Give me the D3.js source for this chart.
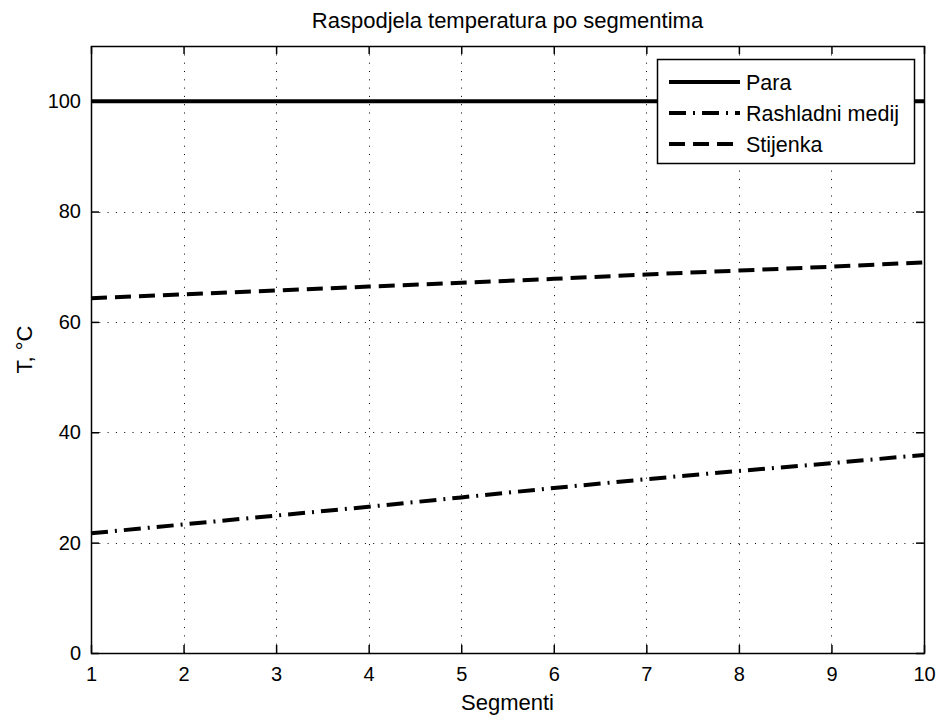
<!DOCTYPE html>
<html>
<head>
<meta charset="UTF-8">
<script src="https://d3js.org/d3.v7.min.js"></script>
<style>
  body { margin: 0; background: #fff; }
  text { font-family: "Liberation Sans", Arial, sans-serif; fill: #000; }
</style>
</head>
<body>
<svg id="canvas"></svg>
<script>
width = 938;
height = 718;

segments = [1, 2, 3, 4, 5, 6, 7, 8, 9, 10];
para = [100, 100, 100, 100, 100, 100, 100, 100, 100, 100];
rashladni = [21.7, 23.3, 24.9, 26.5, 28.2, 29.9, 31.5, 33.0, 34.4, 35.9];
stijenka = [64.3, 65.0, 65.7, 66.4, 67.1, 67.8, 68.6, 69.3, 70.0, 70.8];
xTicks = [1, 2, 3, 4, 5, 6, 7, 8, 9, 10];
yTicks = [0, 20, 40, 60, 80, 100];

series = [
    {name: "Para", values: para, dash: null},
    {name: "Rashladni medij", values: rashladni, dash: "17,7,2,7"},
    {name: "Stijenka", values: stijenka, dash: "16,8"}
];

// plot box (avoid window.top)
pLeft = 91; pRight = 924; pTop = 46; pBottom = 653;

x = d3.scaleLinear().domain([1, 10]).range([pLeft, pRight]);
y = d3.scaleLinear().domain([0, 110]).range([pBottom, pTop]);

svg = d3.select("#canvas").attr("width", width).attr("height", height);

// grid
grid = svg.append("g")
    .attr("stroke", "#000").attr("stroke-width", 1)
    .attr("stroke-dasharray", "1,7.3");
grid.selectAll(".gx").data(xTicks.slice(1, -1)).enter().append("line")
    .attr("x1", d => Math.round(x(d)) + 0.5).attr("x2", d => Math.round(x(d)) + 0.5)
    .attr("y1", pBottom).attr("y2", pTop);
grid.selectAll(".gy").data(yTicks.slice(1)).enter().append("line")
    .attr("y1", d => Math.round(y(d)) + 0.5).attr("y2", d => Math.round(y(d)) + 0.5)
    .attr("x1", pLeft).attr("x2", pRight);

// frame
svg.append("rect")
    .attr("x", pLeft + 0.5).attr("y", pTop + 0.5)
    .attr("width", pRight - pLeft).attr("height", pBottom - pTop)
    .attr("fill", "none").attr("stroke", "#000").attr("stroke-width", 1.5);

// axes with inward ticks
svg.append("g").attr("transform", `translate(0,${pBottom})`)
    .call(d3.axisBottom(x).tickValues(xTicks).tickSize(-8).tickPadding(14))
    .call(g => g.select(".domain").remove());
svg.append("g").attr("transform", `translate(0,${pTop})`)
    .call(d3.axisTop(x).tickValues(xTicks).tickSize(-8).tickFormat(""))
    .call(g => g.select(".domain").remove());
svg.append("g").attr("transform", `translate(${pLeft},0)`)
    .call(d3.axisLeft(y).tickValues(yTicks).tickSize(-8).tickPadding(10))
    .call(g => g.select(".domain").remove());
svg.append("g").attr("transform", `translate(${pRight},0)`)
    .call(d3.axisRight(y).tickValues(yTicks).tickSize(-8).tickFormat(""))
    .call(g => g.select(".domain").remove());
svg.selectAll(".tick line").attr("stroke", "#000").attr("stroke-width", 1.5);
svg.selectAll(".tick text").style("font-family", "Liberation Sans, Arial, sans-serif")
    .style("font-size", "20px").attr("fill", "#000");

// lines
line = d3.line().x((d, i) => x(segments[i])).y(d => y(d));
svg.selectAll(".series").data(series).enter().append("path")
    .attr("d", d => line(d.values))
    .attr("fill", "none").attr("stroke", "#000").attr("stroke-width", 4)
    .attr("stroke-dasharray", d => d.dash);

// legend
legend = svg.append("g");
legend.append("rect")
    .attr("x", 657.5).attr("y", 59.5).attr("width", 257).attr("height", 104)
    .attr("fill", "#fff").attr("stroke", "#000").attr("stroke-width", 1.5);
items = legend.selectAll(".item").data(series).enter().append("g")
    .attr("transform", (d, i) => `translate(0,${82 + i * 31})`);
items.append("line")
    .attr("x1", 669).attr("x2", 740).attr("y1", 0).attr("y2", 0)
    .attr("stroke", "#000").attr("stroke-width", 4)
    .attr("stroke-dasharray", d => d.dash);
items.append("text")
    .attr("x", 746).attr("y", 8).style("font-size", "21.5px")
    .text(d => d.name);

// titles
svg.append("text").attr("x", (pLeft + pRight) / 2).attr("y", 28)
    .attr("text-anchor", "middle").style("font-size", "22px")
    .text("Raspodjela temperatura po segmentima");
svg.append("text").attr("x", (pLeft + pRight) / 2).attr("y", 710)
    .attr("text-anchor", "middle").style("font-size", "22px")
    .text("Segmenti");
svg.append("text")
    .attr("transform", `translate(32,${(pTop + pBottom) / 2}) rotate(-90)`)
    .attr("text-anchor", "middle").style("font-size", "22px")
    .text("T, °C");
</script>
</body>
</html>
